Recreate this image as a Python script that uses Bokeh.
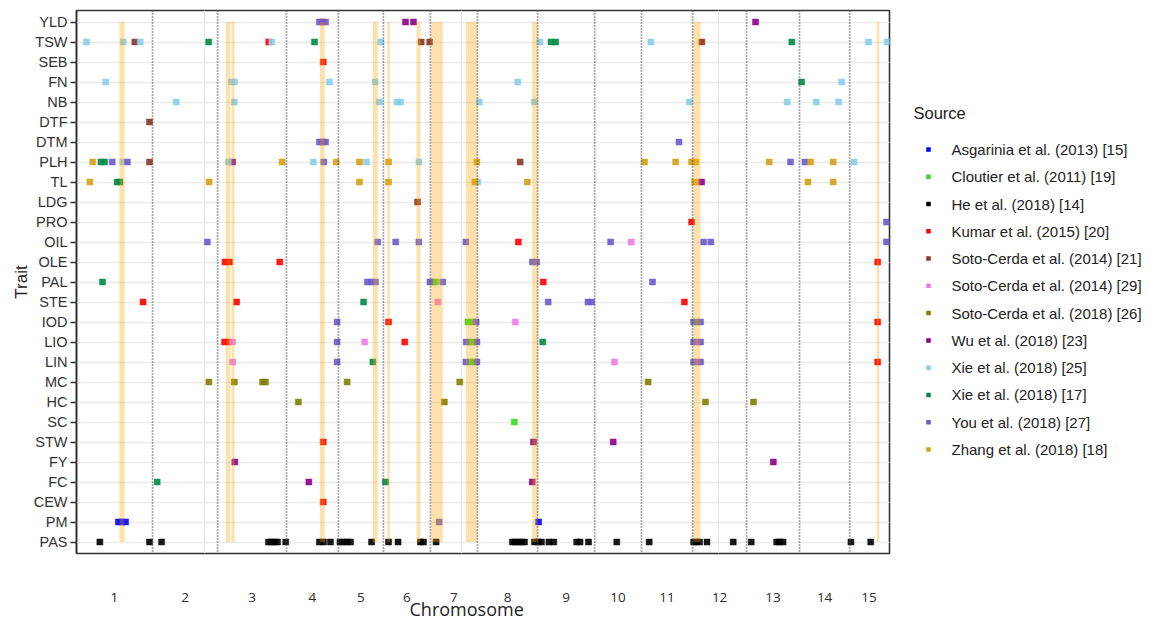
from bokeh.plotting import figure
from bokeh.models import FactorRange, Range1d, Span, FixedTicker, ColumnDataSource
from bokeh.layouts import row
from bokeh.embed import file_html
from bokeh.resources import INLINE
from bokeh.core.properties import value

# ---------------- data ----------------
traits = ["YLD", "TSW", "SEB", "FN", "NB", "DTF", "DTM", "PLH", "TL", "LDG", "PRO",
          "OIL", "OLE", "PAL", "STE", "IOD", "LIO", "LIN", "MC", "HC", "SC", "STW",
          "FY", "FC", "CEW", "PM", "PAS"]

chrom_names = [str(i) for i in range(1, 16)]
chrom_len_mb = [29.8, 25.3, 26.8, 20.2, 17.5, 18.3, 18.3, 23.4, 22.2, 18.2, 19.9, 21.0, 20.6, 19.5, 15.0]

sources = ["Asgarinia et al. (2013) [15]", "Cloutier et al. (2011)  [19]", "He et al. (2018) [14]",
           "Kumar et al. (2015)  [20]", "Soto-Cerda et al. (2014) [21]", "Soto-Cerda et al. (2014)  [29]",
           "Soto-Cerda et al. (2018)  [26]", "Wu et al. (2018)   [23]", "Xie et al. (2018) [25]",
           "Xie et al. (2018)  [17]", "You et al. (2018)    [27]", "Zhang et al. (2018)  [18]"]
source_colors = ["#0000FF", "#33DD22", "#000000", "#FF0000", "#8B3626", "#EE7AE9",
                 "#808000", "#8B008B", "#87CEEB", "#008B45", "#6A5ACD", "#D4A017"]

# QTL positions: (trait, cumulative genome position in Mb)
asgarinia_15 = [("PM", 16.5), ("PM", 17.9), ("PM", 19.3), ("PM", 180.0)]
cloutier_19 = [("PAL", 138.9), ("PAL", 139.9), ("IOD", 152.5), ("IOD", 153.9), ("IOD", 241.6),
               ("LIO", 153.3), ("LIO", 154.5), ("LIN", 153.3), ("LIN", 154.5), ("SC", 170.5)]
he_14 = [("PAS", v) for v in [9.3, 28.6, 33.3, 74.9, 76.1, 77.2, 78.4, 81.6, 94.7, 96.3, 99.0,
                              102.7, 104.1, 105.4, 106.8, 115.0, 121.6, 125.3, 134.0, 135.2, 140.1,
                              169.8, 171.0, 172.2, 173.3, 174.5, 178.4, 179.8, 181.1, 184.0, 185.9,
                              194.8, 196.1, 199.4, 210.4, 223.0, 240.3, 241.4, 242.6, 245.5, 255.7,
                              262.7, 272.6, 273.7, 275.1, 301.5, 309.2]]
kumar_20 = [("YLD", 95.9), ("TSW", 75.0), ("SEB", 96.2), ("PRO", 239.5), ("OIL", 172.1),
            ("OLE", 58.0), ("OLE", 59.7), ("OLE", 79.3), ("OLE", 311.9), ("PAL", 181.8),
            ("STE", 26.1), ("STE", 62.5), ("STE", 236.7), ("IOD", 121.6), ("IOD", 311.9),
            ("LIO", 57.8), ("LIO", 59.3), ("LIO", 127.9), ("LIN", 311.9), ("STW", 96.2), ("CEW", 96.2)]
soto_21 = [("TSW", 22.9), ("TSW", 134.3), ("TSW", 137.6), ("TSW", 243.5), ("DTF", 28.6),
           ("PLH", 28.6), ("PLH", 172.8), ("LDG", 132.9)]
soto_29 = [("OIL", 216.0), ("STE", 140.8), ("IOD", 170.9), ("LIO", 60.9), ("LIO", 112.3),
           ("LIO", 241.8), ("LIN", 61.0), ("LIN", 209.5), ("LIN", 241.8)]
soto_26 = [("MC", 51.7), ("MC", 61.6), ("MC", 72.6), ("MC", 73.7), ("MC", 105.5), ("MC", 149.3),
           ("MC", 222.6), ("HC", 86.5), ("HC", 143.3), ("HC", 244.9), ("HC", 263.6)]
wu_23 = [("YLD", 128.2), ("YLD", 131.3), ("YLD", 264.4), ("DTM", 95.9), ("PLH", 60.9),
         ("TL", 243.4), ("STW", 178.0), ("STW", 209.0), ("FY", 61.8), ("FY", 271.3),
         ("FC", 90.6), ("FC", 177.5)]
xie_25 = [("TSW", 4.1), ("TSW", 18.4), ("TSW", 25.0), ("TSW", 76.2), ("TSW", 118.6), ("TSW", 180.5),
          ("TSW", 223.7), ("TSW", 308.3), ("TSW", 315.6), ("FN", 11.6), ("FN", 60.5), ("FN", 61.7),
          ("FN", 98.6), ("FN", 116.4), ("FN", 171.9), ("FN", 297.9), ("NB", 39.0), ("NB", 61.6),
          ("NB", 118.0), ("NB", 124.9), ("NB", 126.3), ("NB", 156.9), ("NB", 178.3), ("NB", 238.6),
          ("NB", 276.7), ("NB", 288.0), ("NB", 296.7), ("PLH", 18.2), ("PLH", 59.3), ("PLH", 92.3),
          ("PLH", 113.0), ("PLH", 133.4), ("PLH", 302.7), ("TL", 156.3)]
xie_17 = [("TSW", 51.6), ("TSW", 92.8), ("TSW", 184.8), ("TSW", 186.6), ("TSW", 278.5), ("FN", 282.3),
          ("PLH", 9.7), ("PLH", 11.1), ("TL", 16.0), ("TL", 17.1), ("PAL", 10.3), ("STE", 111.9),
          ("LIO", 181.6), ("LIN", 115.5), ("FC", 31.6), ("FC", 120.4)]
you_27 = [("YLD", 94.7), ("YLD", 97.1), ("DTM", 94.7), ("DTM", 97.1), ("DTM", 234.6), ("PLH", 14.1),
          ("PLH", 20.0), ("PLH", 96.4), ("PLH", 278.0), ("PLH", 283.6), ("PRO", 315.3),
          ("OIL", 51.1), ("OIL", 117.4), ("OIL", 124.4), ("OIL", 133.4), ("OIL", 151.7), ("OIL", 208.0),
          ("OIL", 244.2), ("OIL", 247.0), ("OIL", 315.3), ("OLE", 177.6), ("OLE", 179.2),
          ("PAL", 113.4), ("PAL", 115.0), ("PAL", 116.5), ("PAL", 137.7), ("PAL", 142.7), ("PAL", 224.3),
          ("STE", 183.7), ("STE", 199.2), ("STE", 200.6), ("IOD", 101.6), ("IOD", 155.7), ("IOD", 240.3),
          ("IOD", 243.0), ("LIO", 101.6), ("LIO", 151.8), ("LIO", 156.0), ("LIO", 240.3), ("LIO", 243.0),
          ("LIN", 101.6), ("LIN", 151.7), ("LIN", 156.0), ("LIN", 240.3), ("LIN", 243.0), ("PM", 141.3)]
zhang_18 = [("PLH", 6.5), ("PLH", 80.2), ("PLH", 101.2), ("PLH", 110.3), ("PLH", 121.6), ("PLH", 156.0),
            ("PLH", 221.2), ("PLH", 233.3), ("PLH", 239.5), ("PLH", 241.1), ("PLH", 269.7), ("PLH", 285.8),
            ("PLH", 294.6), ("TL", 5.4), ("TL", 51.8), ("TL", 110.3), ("TL", 121.6), ("TL", 155.2),
            ("TL", 175.6), ("TL", 240.7), ("TL", 284.8), ("TL", 294.6)]

qtl_by_source = [asgarinia_15, cloutier_19, he_14, kumar_20, soto_21, soto_29, soto_26,
                 wu_23, xie_25, xie_17, you_27, zhang_18]

# highlighted regions (Mb)
band_start = [16.9, 58.3, 60.6, 94.9, 115.5, 121.1, 132.5, 138.2, 151.7, 177.5, 240.2, 311.5]
band_end = [18.9, 60.1, 61.7, 96.8, 117.4, 122.1, 134.0, 142.7, 156.1, 179.7, 243.0, 312.5]

grid_mb = [50, 150, 250]

# ---------------- derived ----------------
chrom_start = []
acc = 0.0
for L in chrom_len_mb:
    chrom_start.append(acc)
    acc += L
chrom_center = [round(s + L / 2, 2) for s, L in zip(chrom_start, chrom_len_mb)]
boundaries = chrom_start[1:]

FONT = "Liberation Sans"

MAIN_W, H = 893, 624
p = figure(width=MAIN_W, height=H,
           x_range=Range1d(0.2, 316.5),
           y_range=FactorRange(factors=traits[::-1], range_padding=0.15 / 27),
           output_backend="svg", toolbar_location=None,
           min_border_left=76, min_border_right=4, min_border_top=10, min_border_bottom=H - 553)

p.background_fill_color = "white"
p.border_fill_color = "white"
p.outline_line_color = "#333333"
p.outline_line_width = 1.6

xa = p.xaxis[0]
xa.ticker = FixedTicker(ticks=chrom_center)
xa.major_label_overrides = {c: n for c, n in zip(chrom_center, chrom_names)}
xa.major_tick_line_color = None
xa.minor_tick_line_color = None
xa.axis_line_color = None
xa.major_label_standoff = 33
xa.major_label_text_font = "Open Sans"
xa.major_label_text_font_size = "13.5px"
xa.major_label_text_color = "#2b2b2b"
# trailing no-break spaces shift the centred label slightly left, as in the original
xa.axis_label = "Chromosome" + "\u00a0" * 7
xa.axis_label_standoff = -8
xa.axis_label_text_font = "Open Sans"
xa.axis_label_text_font_size = "18px"
xa.axis_label_text_font_style = "normal"
xa.axis_label_text_color = "#222222"

p.xgrid.ticker = FixedTicker(ticks=grid_mb)
p.xgrid.grid_line_color = "#E6E6E6"
p.xgrid.grid_line_width = 1.2
p.ygrid.grid_line_color = "#EBEBEB"
p.ygrid.grid_line_width = 1.5

ya = p.yaxis[0]
ya.axis_label = "Trait"
ya.axis_label_text_font = FONT
ya.axis_label_text_font_size = "17px"
ya.axis_label_text_font_style = "normal"
ya.axis_label_text_color = "#222222"
ya.axis_label_standoff = 0
ya.major_label_text_font = FONT
ya.major_label_text_font_size = "14.5px"
ya.major_label_text_color = "#333333"
ya.major_label_standoff = 3
ya.major_tick_out = 6
ya.major_tick_in = 0
ya.major_tick_line_color = "#333333"
ya.major_tick_line_width = 1.3
ya.axis_line_color = "#333333"
ya.axis_line_width = 1.6

for b in boundaries:
    p.add_layout(Span(location=b, dimension="height", line_color="#505050",
                      line_dash="1 2", line_width=1.7))

for qtl, col in zip(qtl_by_source, source_colors):
    src = ColumnDataSource(dict(trait=[t for t, _ in qtl], pos=[v for _, v in qtl]))
    p.scatter(x="pos", y="trait", source=src, marker="square", size=6,
              fill_color=col, line_color=col, line_width=0.5, alpha=0.9)

band_src = ColumnDataSource(dict(left=band_start, right=band_end,
                                 top=[traits[0]] * len(band_start),
                                 bottom=[traits[-1]] * len(band_start)))
p.quad(left="left", right="right", top="top", bottom="bottom", source=band_src,
       fill_color="#FFA500", fill_alpha=0.33, line_color=None)

# ---------------- legend panel (coordinates = page pixels; frame aligned with main frame) ----------------
LEG_W = 264
leg = figure(width=LEG_W, height=H, x_range=Range1d(MAIN_W, MAIN_W + LEG_W), y_range=Range1d(553, 10),
             output_backend="svg", toolbar_location=None,
             x_axis_location=None, y_axis_location=None, min_border=0)
leg.grid.visible = False
leg.outline_line_color = None
leg.border_fill_color = "white"

leg.text(x=[913], y=[112], text=["Source"], text_font=value(FONT), text_font_size="16.5px",
         text_baseline="middle", text_color="#222222")
ys = [149 + i * 27.27 for i in range(len(sources))]
leg.scatter(x=[928] * len(sources), y=ys, marker="square", size=4.5,
            fill_color=source_colors, line_color=None)
leg.text(x=[951] * len(sources), y=ys, text=sources, text_font=value(FONT),
         text_font_size="15px", text_baseline="middle", text_color="#222222")

layout = row(p, leg)
open("out.html", "w").write(file_html(layout, INLINE))
